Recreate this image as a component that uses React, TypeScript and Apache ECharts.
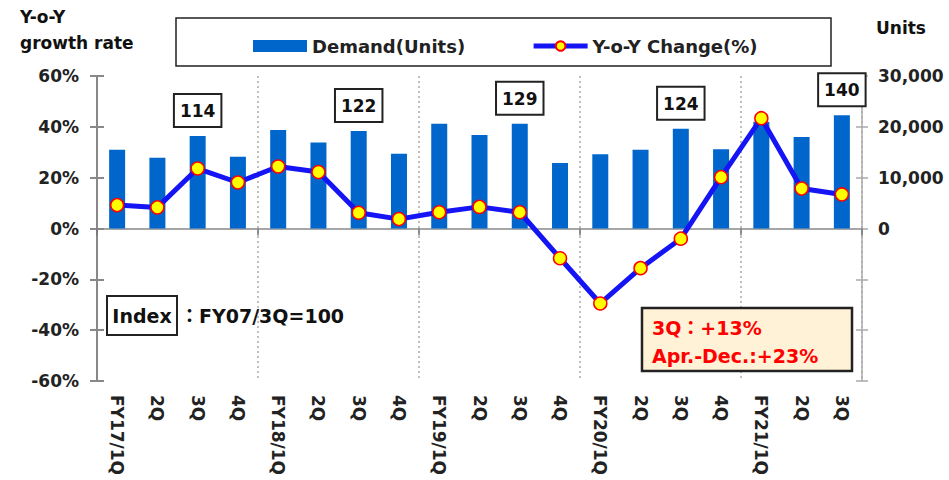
import React, { useEffect, useRef } from "react";
import * as echarts from "echarts";

const categories = [
  "FY17/1Q", "2Q", "3Q", "4Q",
  "FY18/1Q", "2Q", "3Q", "4Q",
  "FY19/1Q", "2Q", "3Q", "4Q",
  "FY20/1Q", "2Q", "3Q", "4Q",
  "FY21/1Q", "2Q", "3Q",
];
const demandUnits = [
  15500, 13900, 18200, 14100,
  19400, 16900, 19200, 14700,
  20600, 18400, 20600, 12900,
  14600, 15500, 19600, 15600,
  21000, 18000, 22300,
];
const yoyChange = [
  9.2, 8.3, 23.6, 18.1,
  24.4, 22.2, 6.2, 3.7,
  6.4, 8.5, 6.4, -11.7,
  -29.5, -15.6, -4.0, 20.2,
  43.4, 15.7, 13.4,
];
const indexQuarters = [2, 6, 10, 14, 18];
const indexValues = [114, 122, 129, 124, 140];
const leftTicks = { min: -60, max: 60, interval: 20 };
const rightTicks = { min: -30000, max: 30000, interval: 10000 };

const FONT = "DejaVu Sans";
const DARK = "#222";

export default function App() {
  const ref = useRef<HTMLDivElement>(null);
  useEffect(() => {
    if (!ref.current) return;
    const chart = echarts.init(ref.current, null, { renderer: "svg" });

    const barData = demandUnits.map((v, i) => {
      const k = indexQuarters.indexOf(i);
      if (k < 0) return v;
      return {
        value: v,
        label: {
          show: true,
          position: "top",
          distance: 10,
          formatter: String(indexValues[k]),
          backgroundColor: "#fff",
          borderColor: DARK,
          borderWidth: 2,
          padding: [6, 5, 5, 5],
          lineHeight: 20,
          fontFamily: FONT,
          fontSize: 17,
          fontWeight: "bold",
          color: "#111",
        },
      };
    });

    const axisLabelStyle = {
      fontFamily: FONT,
      fontSize: 17,
      fontWeight: "bold" as const,
      color: DARK,
    };

    chart.setOption({
      animation: false,
      grid: { left: 97, right: 87, top: 76, bottom: 99, containLabel: false },
      legend: {
        left: 248,
        top: 32,
        itemWidth: 54,
        itemHeight: 12,
        itemGap: 66,
        textStyle: { fontFamily: FONT, fontSize: 18, fontWeight: "bold", color: DARK },
        data: [
          { name: "Demand(Units)", icon: "rect" },
          { name: "Y-o-Y Change(%)", lineStyle: { width: 5, color: "#1414F5" } },
        ],
      },
      xAxis: [
        {
          type: "category",
          data: categories,
          position: "bottom",
          boundaryGap: true,
          axisLine: { onZero: true, lineStyle: { color: "#888", width: 1.5 } },
          axisTick: { show: true, interval: 3, length: 7, lineStyle: { color: "#777", width: 1.5 } },
          axisLabel: { show: false },
          splitLine: {
            show: true,
            interval: 3,
            lineStyle: { color: "#aaa", width: 1.5, type: [2, 3] },
          },
        },
        {
          type: "category",
          data: categories,
          position: "bottom",
          boundaryGap: true,
          axisLine: { show: false, onZero: false },
          axisTick: { show: false },
          splitLine: { show: false },
          axisLabel: { ...axisLabelStyle, rotate: -90, interval: 0, margin: 14 },
        },
      ],
      yAxis: [
        {
          type: "value",
          position: "left",
          ...leftTicks,
          axisLine: { show: true, lineStyle: { color: "#888", width: 2 } },
          axisTick: { show: true, length: 7, lineStyle: { color: "#888", width: 2 } },
          axisLabel: { ...axisLabelStyle, margin: 18, formatter: "{value}%" },
          splitLine: { show: false },
        },
        {
          type: "value",
          position: "right",
          ...rightTicks,
          axisLine: { show: true, lineStyle: { color: "#aaa", width: 1.5 } },
          axisTick: { show: true, length: 6, lineStyle: { color: "#aaa", width: 1.5 } },
          axisLabel: {
            ...axisLabelStyle,
            margin: 16,
            formatter: (v: number) => (v < 0 ? "" : v.toLocaleString("en-US")),
          },
          splitLine: { show: false },
        },
        {
          type: "value",
          position: "left",
          ...leftTicks,
          axisLine: { show: false },
          axisTick: { show: true, inside: true, length: 7, lineStyle: { color: "#888", width: 2 } },
          axisLabel: { show: false },
          splitLine: { show: false },
        },
        {
          type: "value",
          position: "right",
          ...rightTicks,
          axisLine: { show: false },
          axisTick: { show: true, inside: true, length: 6, lineStyle: { color: "#aaa", width: 1.5 } },
          axisLabel: { show: false },
          splitLine: { show: false },
        },
      ],
      series: [
        {
          name: "Demand(Units)",
          type: "bar",
          xAxisIndex: 0,
          yAxisIndex: 1,
          barWidth: 16,
          itemStyle: { color: "#0066CC" },
          data: barData,
          z: 2,
        },
        {
          name: "Y-o-Y Change(%)",
          type: "line",
          xAxisIndex: 0,
          yAxisIndex: 0,
          data: yoyChange,
          symbol: "circle",
          symbolSize: 13,
          lineStyle: { color: "#1414F5", width: 5 },
          itemStyle: { color: "#FFFF00", borderColor: "#FF0000", borderWidth: 1.5 },
          z: 4,
        },
      ],
      graphic: [
        {
          type: "text",
          left: 20,
          top: 4,
          style: {
            text: "Y-o-Y\ngrowth rate",
            font: `bold 17px "${FONT}"`,
            fill: "#111",
            lineHeight: 26,
          },
        },
        {
          type: "text",
          left: 876,
          top: 19,
          style: { text: "Units", font: `bold 17px "${FONT}"`, fill: "#111" },
        },
        {
          type: "rect",
          shape: { x: 176, y: 18, width: 655, height: 48 },
          style: { fill: "none", stroke: DARK, lineWidth: 1.5 },
        },
        {
          type: "rect",
          shape: { x: 107, y: 296, width: 70, height: 39 },
          style: { fill: "#fff", stroke: DARK, lineWidth: 2 },
          z: 10,
        },
        {
          type: "text",
          x: 142,
          y: 316,
          style: {
            text: "Index",
            font: `bold 19px "${FONT}"`,
            fill: "#111",
            align: "center",
            verticalAlign: "middle",
          },
          z: 11,
        },
        {
          type: "text",
          x: 180,
          y: 316,
          style: {
            text: "：FY07/3Q=100",
            font: `bold 19px "${FONT}", "Noto Sans CJK JP"`,
            fill: "#111",
            verticalAlign: "middle",
          },
          z: 11,
        },
        {
          type: "rect",
          shape: { x: 642, y: 308, width: 210, height: 63 },
          style: { fill: "#FFF2D6", stroke: DARK, lineWidth: 2.5 },
          z: 10,
        },
        {
          type: "text",
          x: 652,
          y: 328,
          style: {
            text: "3Q：+13%",
            font: `bold 19px "${FONT}", "Noto Sans CJK JP"`,
            fill: "#FF0000",
            verticalAlign: "middle",
          },
          z: 11,
        },
        {
          type: "text",
          x: 652,
          y: 356,
          style: {
            text: "Apr.-Dec.:+23%",
            font: `bold 19px "${FONT}"`,
            fill: "#FF0000",
            verticalAlign: "middle",
          },
          z: 11,
        },
      ],
    });
    return () => chart.dispose();
  }, []);
  return (
    <div
      ref={ref}
      style={{ position: "fixed", left: 0, top: 0, width: 949, height: 480, background: "#fff" }}
    />
  );
}
